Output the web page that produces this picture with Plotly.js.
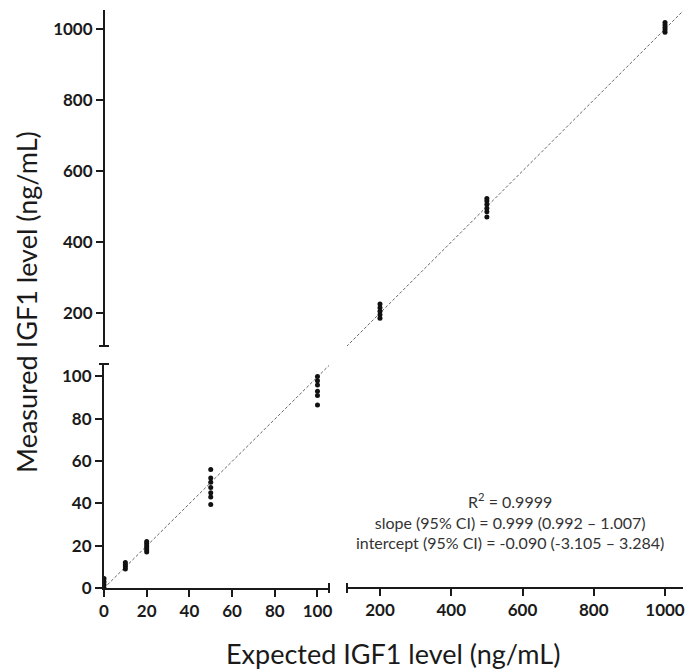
<!DOCTYPE html>
<html>
<head>
<meta charset="utf-8">
<script src="https://cdn.plot.ly/plotly-3.0.1.min.js"></script>
<style>html,body{margin:0;padding:0;background:#fff;}#chart{width:688px;height:671px;}</style>
</head>
<body>
<div id="chart"></div>
<script>
// Low range (0-100) measurements
const lowX = [0,0,0,0, 10,10,10,10, 20,20,20,20,20,20, 50,50,50,50,50,50,50, 100,100,100,100,100,100];
const lowY = [0,1.5,3,4.5, 9,10,11,12, 17,18,19,20,21,22, 56,52,50,47.5,45,43,39.5, 100,98,96,93,91,86.5];
// High range (200-1000) measurements
const highX = [200,200,200,200,200, 500,500,500,500,500,500, 1000,1000,1000,1000,1000];
const highY = [185,195,205,215,225, 470,485,495,505,515,522, 990,997,1003,1010,1017];
// Regression line segments
const fitLowX = [0, 105.4];
const fitLowY = [-0.09, 105.2];
const fitHighX = [106, 1051];
const fitHighY = [105.8, 1049.9];
// Ticks
const lowTicks = [0, 20, 40, 60, 80, 100];
const highTicks = [200, 400, 600, 800, 1000];
const statsLines = ["R<sup>2</sup> = 0.9999", "slope (95% CI) = 0.999 (0.992 \u2013 1.007)", "intercept (95% CI) = -0.090 (-3.105 \u2013 3.284)"];

const W = 688, H = 671;
const px = v => v / W;
const py = v => (H - v) / H;

const axCol = '#1a1a1a';
const tickFont = {family: 'Lato, sans-serif', size: 17, color: '#1a1a1a', weight: 'bold'};

const traces = [
  {x: fitLowX, y: fitLowY, xaxis: 'x', yaxis: 'y', mode: 'lines', line: {color: '#666', width: 1, dash: '3px,2px'}, hoverinfo: 'skip'},
  {x: fitHighX, y: fitHighY, xaxis: 'x2', yaxis: 'y2', mode: 'lines', line: {color: '#666', width: 1, dash: '3px,2px'}, hoverinfo: 'skip'},
  {x: lowX, y: lowY, xaxis: 'x', yaxis: 'y', mode: 'markers', marker: {color: '#111', size: 5}},
  {x: highX, y: highY, xaxis: 'x2', yaxis: 'y2', mode: 'markers', marker: {color: '#111', size: 5}}
];

const axBase = {
  showline: true, linecolor: axCol, linewidth: 2,
  ticks: 'outside', ticklen: 7, tickwidth: 2, tickcolor: axCol,
  showgrid: false, zeroline: false, tickfont: tickFont, fixedrange: true
};

const capW = 5;
const shapes = [
  {type: 'line', xref: 'paper', yref: 'paper', x0: px(104 - capW), x1: px(104 + capW), y0: py(364), y1: py(364), line: {color: axCol, width: 2}},
  {type: 'line', xref: 'paper', yref: 'paper', x0: px(104 - capW), x1: px(104 + capW), y0: py(346), y1: py(346), line: {color: axCol, width: 2}},
  {type: 'line', xref: 'paper', yref: 'paper', x0: px(329), x1: px(329), y0: py(588 - capW), y1: py(588 + capW), line: {color: axCol, width: 2}},
  {type: 'line', xref: 'paper', yref: 'paper', x0: px(347), x1: px(347), y0: py(588 - capW), y1: py(588 + capW), line: {color: axCol, width: 2}}
];

const layout = {
  width: W, height: H,
  margin: {l: 0, r: 0, t: 0, b: 0},
  paper_bgcolor: '#fff', plot_bgcolor: 'rgba(0,0,0,0)',
  showlegend: false,
  xaxis: Object.assign({}, axBase, {domain: [px(104), px(329)], range: [0, 105.4], anchor: 'y', tickvals: lowTicks}),
  yaxis: Object.assign({}, axBase, {domain: [py(588), py(364)], range: [0, 105.9], anchor: 'x', tickvals: lowTicks}),
  xaxis2: Object.assign({}, axBase, {domain: [px(347), px(683)], range: [107.4, 1050.5], anchor: 'free', position: py(588), tickvals: highTicks}),
  yaxis2: Object.assign({}, axBase, {domain: [py(346), py(10)], range: [107.2, 1052.3], anchor: 'free', position: px(104), tickvals: highTicks}),
  shapes: shapes,
  annotations: [
    {xref: 'paper', yref: 'paper', x: px(393), y: py(653), xanchor: 'center', yanchor: 'middle', showarrow: false,
     text: 'Expected IGF1 level (ng/mL)', font: {family: 'Lato, sans-serif', size: 27, color: '#1a1a1a'}},
    {xref: 'paper', yref: 'paper', x: px(26), y: py(302), xanchor: 'center', yanchor: 'middle', showarrow: false, textangle: -90,
     text: 'Measured IGF1 level (ng/mL)', font: {family: 'Lato, sans-serif', size: 27, color: '#1a1a1a'}},
    {xref: 'paper', yref: 'paper', x: px(510), y: py(521), xanchor: 'center', yanchor: 'middle', showarrow: false, align: 'center',
     text: statsLines.join('<br>'), font: {family: 'Lato, sans-serif', size: 16, color: '#333'}}
  ]
};

Plotly.newPlot('chart', traces, layout, {displayModeBar: false, staticPlot: true});
</script>
</body>
</html>
